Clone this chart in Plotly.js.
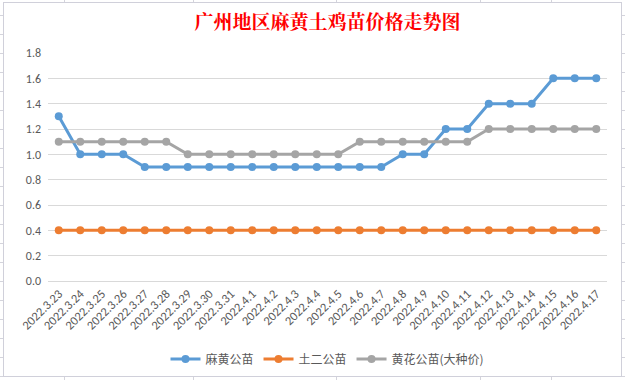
<!DOCTYPE html>
<html>
<head>
<meta charset="utf-8">
<script src="https://cdn.plot.ly/plotly-3.0.1.min.js"></script>
<style>
html,body{margin:0;padding:0;width:625px;height:380px;overflow:hidden;background:#fff;}
#bg{position:absolute;left:0;top:0;width:625px;height:380px;
 background:repeating-linear-gradient(to bottom, transparent 0px, transparent 15px, #d4d4dc 15px, #d4d4dc 16px, transparent 16px, transparent 19px);}
.col{position:absolute;top:0;width:1px;height:380px;background:#d4d4dc;}
#box{position:absolute;left:3px;top:2px;width:617px;height:373px;background:#fff;border:1px solid #d0d0da;}
#chart{position:absolute;left:0;top:0;width:625px;height:380px;}
</style>
</head>
<body>
<div id="bg"></div>
<div class="col" style="left:64px"></div>
<div class="col" style="left:193px"></div>
<div class="col" style="left:336px"></div>
<div class="col" style="left:480px"></div>
<div class="col" style="left:551px"></div>
<div id="box"></div>
<div id="chart"></div>
<script>
const dates = ["2022.3.23","2022.3.24","2022.3.25","2022.3.26","2022.3.27","2022.3.28","2022.3.29","2022.3.30","2022.3.31",
 "2022.4.1","2022.4.2","2022.4.3","2022.4.4","2022.4.5","2022.4.6","2022.4.7","2022.4.8","2022.4.9","2022.4.10",
 "2022.4.11","2022.4.12","2022.4.13","2022.4.14","2022.4.15","2022.4.16","2022.4.17"];
const mahuang = [1.3,1.0,1.0,1.0,0.9,0.9,0.9,0.9,0.9,0.9,0.9,0.9,0.9,0.9,0.9,0.9,1.0,1.0,1.2,1.2,1.4,1.4,1.4,1.6,1.6,1.6];
const tuer = [0.4,0.4,0.4,0.4,0.4,0.4,0.4,0.4,0.4,0.4,0.4,0.4,0.4,0.4,0.4,0.4,0.4,0.4,0.4,0.4,0.4,0.4,0.4,0.4,0.4,0.4];
const huanghua = [1.1,1.1,1.1,1.1,1.1,1.1,1.0,1.0,1.0,1.0,1.0,1.0,1.0,1.0,1.1,1.1,1.1,1.1,1.1,1.1,1.2,1.2,1.2,1.2,1.2,1.2];
const names = ["麻黄公苗","土二公苗","黄花公苗(大种价)"];
const colors = ["#5B9BD5","#ED7D31","#A5A5A5"];
const series = [mahuang, tuer, huanghua];
const yTicks = [0,0.2,0.4,0.6,0.8,1.0,1.2,1.4,1.6,1.8];

const traces = series.map((s,i)=>({
  x: dates, y: s, name: names[i], type:'scatter', mode:'lines+markers',
  line:{color:colors[i], width:3}, marker:{color:colors[i], size:8}
}));

const font = "Calibri, Carlito, 'Noto Sans CJK SC', sans-serif";
const layout = {
  width:625, height:380,
  paper_bgcolor:'rgba(0,0,0,0)', plot_bgcolor:'rgba(0,0,0,0)',
  margin:{l:48, r:18, t:53, b:99},
  title:{text:'广州地区麻黄土鸡苗价格走势图', x:0.5, xanchor:'center', xref:'paper', y:0.94, yanchor:'middle',
    font:{family:"'Noto Serif CJK SC','Noto Sans CJK SC', serif", size:19, color:'#FF0000', weight:'bold'}},
  xaxis:{type:'category', range:[-0.5, dates.length-0.5], tickangle:-45, showgrid:false, zeroline:false, automargin:false,
    showline:false, ticks:'', ticklabelstandoff:2, tickfont:{family:font, size:12.5, color:'#595959'}, fixedrange:true},
  yaxis:{range:[0,1.8], tickvals:yTicks, ticktext:yTicks.map(v=>v.toFixed(1)), showgrid:true, gridcolor:'#D9D9D9', gridwidth:1,
    zeroline:true, zerolinecolor:'#D9D9D9', zerolinewidth:1, showline:false, ticks:'', ticklabelstandoff:6, automargin:false,
    tickfont:{family:font, size:12, color:'#595959'}, fixedrange:true},
  legend:{orientation:'h', x:0.5, xanchor:'center', yref:'container', y:0.055, yanchor:'middle',
    font:{family:"'Noto Sans CJK SC', sans-serif", size:12, color:'#595959'}, itemwidth:30, tracegroupgap:0},
  showlegend:true
};
Plotly.newPlot('chart', traces, layout, {displayModeBar:false, staticPlot:true});
</script>
</body>
</html>
